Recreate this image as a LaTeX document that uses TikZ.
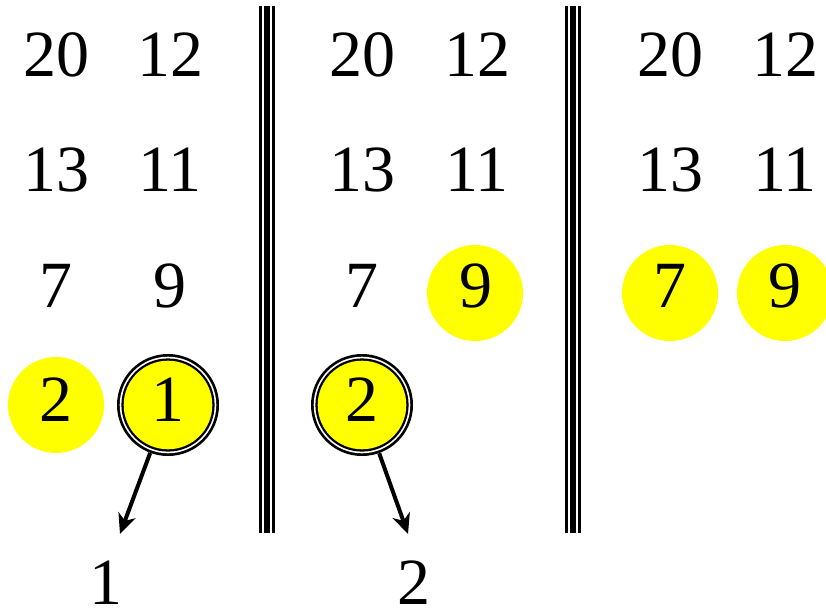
\documentclass[tikz,border=0pt]{standalone}
\usepackage{fontspec}
\setmainfont{Liberation Serif}
\usetikzlibrary{arrows.meta}
\definecolor{hl}{RGB}{255,255,0}
\tikzset{
  num/.style={anchor=base, inner sep=0pt, font=\fontsize{66}{66}\selectfont},
  hlc/.style={circle, fill=hl, minimum size=96pt, inner sep=0pt},
  selc/.style={circle, fill=hl, minimum size=89pt, inner sep=0pt},
  thinbar/.style={line width=3pt},
  thickbar/.style={line width=6pt},
  outarrow/.style={line width=4pt, -{Stealth[length=20pt, width=18pt, inset=6pt]}},
}
\begin{document}
\begin{tikzpicture}[x=1pt, y=-1pt]
\useasboundingbox (0,0) rectangle (826,612);
% separators
\foreach \c [count=\i] in {267,573} {
  \coordinate (st\i) at (\c,6);
  \coordinate (sb\i) at (\c,533);
  \draw[thinbar] ([xshift=-6.5pt]st\i) -- ([xshift=-6.5pt]sb\i);
  \draw[thickbar] (st\i) -- (sb\i);
  \draw[thinbar] ([xshift=6.5pt]st\i) -- ([xshift=6.5pt]sb\i);
}
% highlight circles
\node[hlc] (h2a) at (56,405) {};
\node[hlc] (h9b) at (475,293) {};
\node[hlc] (h7c) at (670,293) {};
\node[hlc] (h9c) at (785,293) {};
% selected circles (double ring)
\foreach \n/\x in {s1/168, s2/362} {
  \node[circle, minimum size=102pt, inner sep=0pt, fill=black] (\n) at (\x,405) {};
  \fill[white] (\x,405) circle (48.3pt);
  \fill[black] (\x,405) circle (46.6pt);
  \fill[hl] (\x,405) circle (44.3pt);
}
% group 1
\node[num] (a1) at (56,77) {20};
\node[num] (a2) at (170,77) {12};
\node[num] (a3) at (56,192) {13};
\node[num] (a4) at (170,192) {11};
\node[num] (a5) at (56,307) {7};
\node[num] (a6) at (170,307) {9};
\node[num] (a7) at (56,421) {2};
\node[num] (a8) at (168,421) {1};
% group 2
\node[num] (b1) at (362,77) {20};
\node[num] (b2) at (477,77) {12};
\node[num] (b3) at (362,192) {13};
\node[num] (b4) at (477,192) {11};
\node[num] (b5) at (362,307) {7};
\node[num] (b6) at (476,307) {9};
\node[num] (b7) at (362,421) {2};
% group 3
\node[num] (c1) at (670,77) {20};
\node[num] (c2) at (785,77) {12};
\node[num] (c3) at (670,192) {13};
\node[num] (c4) at (785,192) {11};
\node[num] (c5) at (670,307) {7};
\node[num] (c6) at (785,307) {9};
% outputs
\node[num] (o1) at (106,604) {1};
\node[num] (o2) at (414,604) {2};
\coordinate (t1) at (120,534);
\coordinate (t2) at (408,534);
\draw[outarrow] (s1) -- (t1);
\draw[outarrow] (s2) -- (t2);
\end{tikzpicture}
\end{document}
